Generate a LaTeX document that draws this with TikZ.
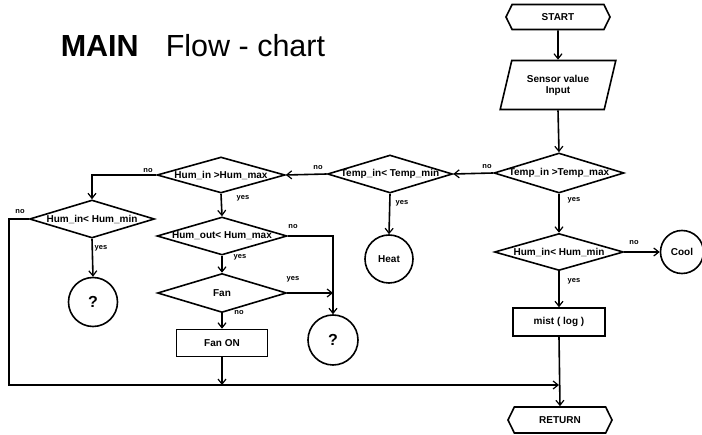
\documentclass[tikz,border=0pt]{standalone}
\usepackage{fontspec}
\setmainfont{Liberation Sans}
\usetikzlibrary{arrows.meta,shapes.geometric,shapes.symbols}
\newcommand\zbox[1]{\makebox[0pt]{#1}}
\begin{document}
\begin{tikzpicture}[x=1pt,y=-1pt,
  line width=1.6pt,
  arr/.style={-{Straight Barb[length=5pt,width=8pt,line width=1.2pt]}},
  lbl/.style={font=\bfseries\fontsize{7.5}{8}\selectfont,inner sep=0pt},
  txt/.style={font=\bfseries\fontsize{10}{11}\selectfont},
  dec/.style={draw,diamond,shape aspect=3.6,inner sep=0pt,txt},
  term/.style={draw,signal,signal to=west and east,signal pointer angle=128,
    minimum width=104pt,minimum height=25pt,inner sep=0pt,txt},
  proc/.style={draw,rectangle,inner sep=0pt,txt},
  conn/.style={draw,circle,inner sep=0pt,txt}]
\useasboundingbox (0,0) rectangle (702,435);
% title
\node[anchor=base west,inner sep=0pt,font=\bfseries\fontsize{30.5}{32}\selectfont] (t1) at (60,57) {MAIN};
\node[anchor=base west,inner sep=0pt,font=\fontsize{30.5}{32}\selectfont] (t2) at (165,57) {Flow - chart};
% right column
\node[term] (start) at (558,17) {START};
\node[draw,trapezium,trapezium left angle=69,trapezium right angle=111,
  trapezium stretches=true,minimum width=116pt,minimum height=49pt,inner sep=0pt,
  align=center,txt] (sensor) at (558,85) {Sensor value\\Input};
\node[dec,minimum width=130pt,minimum height=40pt] (tmax) at (559,173) {\zbox{Temp\_in >Temp\_max}};
\node[dec,minimum width=129pt,minimum height=37pt] (hminR) at (559,252) {\zbox{Hum\_in< Hum\_min}};
\node[conn,minimum size=43pt] (cool) at (682,252) {Cool};
\node[proc,minimum width=92pt,minimum height=28pt] (mist) at (559,322) {mist ( log )};
\node[term,minimum height=26pt] (ret) at (560,420) {RETURN};
% middle
\node[dec,minimum width=125pt,minimum height=38pt] (tmin) at (390,174) {\zbox{Temp\_in< Temp\_min}};
\node[conn,minimum size=48pt] (heat) at (389,259) {Heat};
% left
\node[dec,minimum width=128pt,minimum height=36pt] (hmaxL) at (221,175) {\zbox{Hum\_in >Hum\_max}};
\node[dec,minimum width=125pt,minimum height=38pt] (hminL) at (92,219) {\zbox{Hum\_in< Hum\_min}};
\node[conn,minimum size=49pt,font=\bfseries\fontsize{16}{18}\selectfont] (q1) at (93,302) {?};
\node[dec,minimum width=130pt,minimum height=38pt] (hout) at (222,236) {\zbox{Hum\_out< Hum\_max}};
\node[dec,minimum width=129pt,minimum height=39pt] (fan) at (222,293) {\zbox{Fan}};
\node[proc,minimum width=91pt,minimum height=27pt] (fanon) at (222,343) {Fan ON};
\node[conn,minimum size=50pt,font=\bfseries\fontsize{16}{18}\selectfont] (q2) at (333,340) {?};
% helper coordinates
\coordinate (merge) at (559,385);
\coordinate (cA) at (92,175);
\coordinate (cB) at (9,219);
\coordinate (cC) at (9,385);
\coordinate (cD) at (333,236);
\coordinate (cE) at (333,293);
\coordinate (cF) at (222,385);
% connectors
\draw[arr] (start.south) -- (sensor.north);
\draw[arr] (sensor.south) -- (tmax.north);
\draw[arr] (tmax.west) -- (tmin.east);
\draw[arr] (tmax.south) -- (hminR.north);
\draw[arr] (hminR.east) -- (cool.west);
\draw[arr] (hminR.south) -- (mist.north);
\draw[arr] (mist.south) -- (ret.north);
\draw[arr] (tmin.west) -- (hmaxL.east);
\draw[arr] (tmin.south) -- (heat.north);
\draw[arr] (hmaxL.west) -- (cA) -- (hminL.north);
\draw[arr] (hmaxL.south) -- (hout.north);
\draw[arr] (hminL.west) -- (cB) -- (cC) -- (merge);
\draw[arr] (hminL.south) -- (q1.north);
\draw[arr] (hout.east) -- (cD) -- (q2.north);
\draw[arr] (hout.south) -- (fan.north);
\draw[arr] (fan.east) -- (cE);
\draw[arr] (fan.south) -- (fanon.north);
\draw[arr] (fanon.south) -- (cF);
% labels
\node[lbl] (l1) at (487,167) {no};
\node[lbl] (l2) at (574,200) {yes};
\node[lbl] (l3) at (634,243) {no};
\node[lbl] (l4) at (574,281) {yes};
\node[lbl] (l5) at (318,168) {no};
\node[lbl] (l6) at (402,203) {yes};
\node[lbl] (l7) at (148,171) {no};
\node[lbl] (l8) at (243,198) {yes};
\node[lbl] (l9) at (20,212) {no};
\node[lbl] (l10) at (101,248) {yes};
\node[lbl] (l11) at (293,227) {no};
\node[lbl] (l12) at (240,257) {yes};
\node[lbl] (l13) at (293,279) {yes};
\node[lbl] (l14) at (239,313) {no};
\end{tikzpicture}
\end{document}
